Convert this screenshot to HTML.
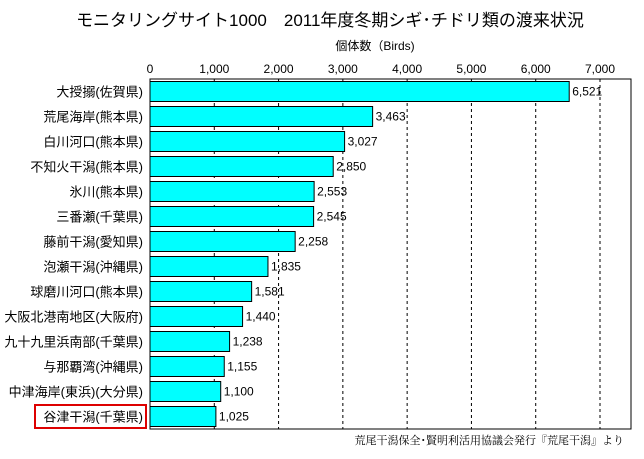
<!DOCTYPE html>
<html><head><meta charset="utf-8"><style>
body{margin:0;background:#fff;}
svg{display:block;font-family:"Liberation Sans","Noto Sans CJK JP",sans-serif;}
</style></head><body>
<svg id="c" width="644" height="459" viewBox="0 0 644 459">
<text x="330" y="26" font-size="17" text-anchor="middle">モニタリングサイト1000　2011年度冬期シギ･チドリ類の渡来状況</text>
<text x="375" y="50" font-size="12" text-anchor="middle">個体数（Birds)</text>
<g id="grid"></g><g id="bars"></g><g id="labels"></g>
<rect x="150" y="79" width="481" height="350" fill="none" stroke="#000" stroke-width="1"/>
<rect x="35" y="405" width="111" height="23" fill="none" stroke="#d00" stroke-width="2"/>
<text x="624" y="444" font-size="11" text-anchor="end" font-family="Liberation Serif, Noto Serif CJK SC, serif">荒尾干潟保全･賢明利活用協議会発行『荒尾干潟』より</text>
</svg>
<script>
const categories=["大授搦(佐賀県)","荒尾海岸(熊本県)","白川河口(熊本県)","不知火干潟(熊本県)","氷川(熊本県)","三番瀬(千葉県)","藤前干潟(愛知県)","泡瀬干潟(沖縄県)","球磨川河口(熊本県)","大阪北港南地区(大阪府)","九十九里浜南部(千葉県)","与那覇湾(沖縄県)","中津海岸(東浜)(大分県)","谷津干潟(千葉県)"];
const values=[6521,3463,3027,2850,2553,2545,2258,1835,1581,1440,1238,1155,1100,1025];
const ticks=[0,1000,2000,3000,4000,5000,6000,7000];
const NS="http://www.w3.org/2000/svg";
const L=150,R=631,T=79,B=429,XMAX=7000*(481/450);
const x=v=>L+v*(450/7000);
const rowH=(B-T)/categories.length;
const y=i=>T+i*rowH;
const fmt=v=>v.toLocaleString("en-US");
function mk(tag,a,p){const e=document.createElementNS(NS,tag);for(const k in a)e.setAttribute(k,a[k]);p.appendChild(e);return e;}
const g=document.getElementById("grid"),b=document.getElementById("bars"),lb=document.getElementById("labels");
ticks.forEach(t=>{
  if(t>0){const l=mk("line",{x1:x(t),x2:x(t),y1:T,y2:B,stroke:"#000","stroke-dasharray":"3,3","stroke-width":1},g);
  
  }
  const tx=mk("text",{x:x(t),y:T-6,"font-size":12,"text-anchor":"middle"},g);tx.textContent=fmt(t);
  
  
});
categories.forEach((c,i)=>{
  const r=mk("rect",{x:L,y:y(i)+2.5,width:x(values[i])-L,height:rowH-5,fill:"#00ffff",stroke:"#000","stroke-width":1},b);
  
  
  const v=mk("text",{x:x(values[i])+3,y:y(i)+rowH/2+4,"font-size":12},lb);v.textContent=fmt(values[i]);
  
  
  const t=mk("text",{x:L-7,y:y(i)+rowH/2+5,"font-size":13,"text-anchor":"end"},lb);t.textContent=c;
  
  
});
</script>
</body></html>
